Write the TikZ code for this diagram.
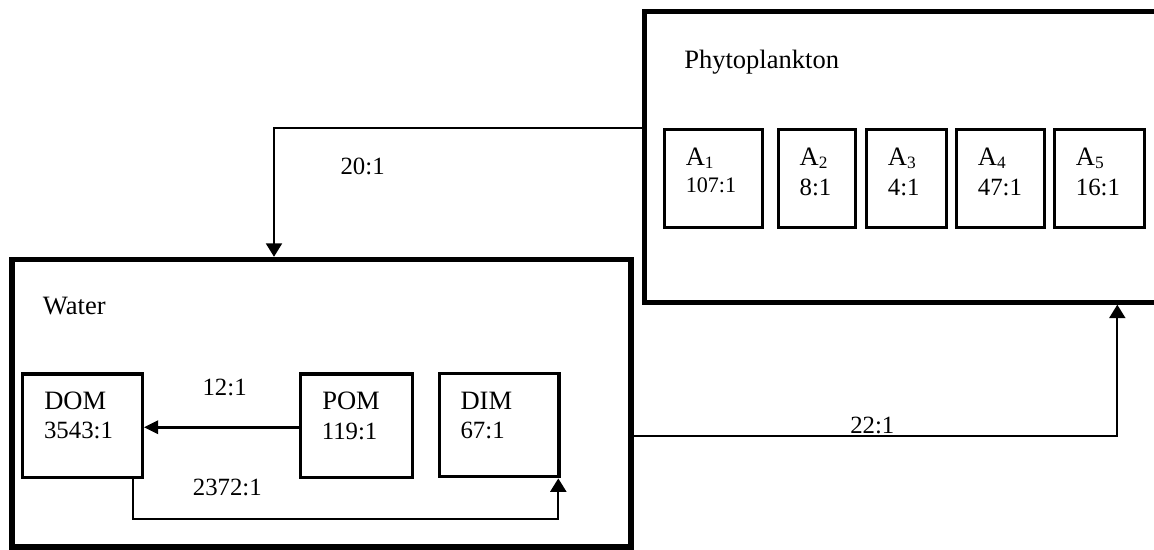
\documentclass[tikz,border=0pt]{standalone}
\usepackage{fontspec}
\setmainfont{Liberation Serif}
\usetikzlibrary{arrows.meta}
\newcommand\sbs[1]{\raisebox{-1.8pt}{\fontsize{13pt}{14pt}\selectfont #1}}
\begin{document}
\begin{tikzpicture}[x=0.75pt,y=-0.75pt,
  outerbox/.style={draw, line width=3.75pt, inner sep=0pt},
  abox/.style={draw, line width=2.5pt, inner sep=0pt, minimum height=98.4*0.75pt},
  wbox/.style={draw, line width=2.5pt, inner sep=0pt, minimum height=103.5*0.75pt},
  ttl/.style={anchor=base west, inner sep=0pt, font=\fontsize{19.9pt}{23pt}\selectfont},
  num/.style={anchor=base west, inner sep=0pt, font=\fontsize{18.6pt}{22pt}\selectfont},
  conn/.style={line width=1.3pt, -{Triangle[length=10pt,width=12pt]}},
  connthick/.style={line width=2pt, -{Triangle[length=10.7pt,width=10pt]}}
]
\useasboundingbox (0,0) rectangle (1154,550);
\clip (0,0) rectangle (1154,550);

% outer compartments
\node[outerbox, minimum width=525.8*0.75pt, minimum height=290.4*0.75pt] (phyto) at (907.1,157) {};
\node[outerbox, line width=4.1pt, minimum width=618.6*0.75pt, minimum height=287.5*0.75pt] (water) at (321.5,403.25) {};

\node[ttl] (tphyto) at (684,68.3) {Phytoplankton};
\node[ttl] (twater) at (42.7,314) {Water};

% phytoplankton groups
\node[abox, minimum width=97.6*0.75pt] (a1) at (713.5,178.5) {};
\node[abox, minimum width=77.4*0.75pt] (a2) at (817,178.5) {};
\node[abox, minimum width=80*0.75pt] (a3) at (906.7,178.5) {};
\node[abox, minimum width=88*0.75pt] (a4) at (1000.7,178.5) {};
\node[abox, minimum width=90*0.75pt] (a5) at (1099.7,178.5) {};

\node[ttl] (ta1) at (685.5,165.7) {A\sbs{1}};
\node[anchor=base west, inner sep=0pt, font=\fontsize{16.6pt}{20pt}\selectfont] (na1) at (685.5,192.3) {107:1};
\node[ttl] (ta2) at (799.4,165.7) {A\sbs{2}};
\node[num] (na2) at (799.4,195) {8:1};
\node[ttl] (ta3) at (887.6,165.7) {A\sbs{3}};
\node[num] (na3) at (887.6,195) {4:1};
\node[ttl] (ta4) at (977.6,165.7) {A\sbs{4}};
\node[num] (na4) at (977.6,195) {47:1};
\node[ttl] (ta5) at (1075.6,165.7) {A\sbs{5}};
\node[num] (na5) at (1075.6,195) {16:1};

% water pools
\node[wbox, minimum width=120*0.75pt] (dom) at (82.3,425.7) {};
\node[wbox, minimum width=111.7*0.75pt] (pom) at (356.5,425.8) {};
\node[wbox, minimum width=119.7*0.75pt] (dim) at (499.2,425) {};

\node[ttl] (tdom) at (44,409.3) {DOM};
\node[num] (ndom) at (43.8,438.3) {3543:1};
\node[ttl] (tpom) at (322,409.3) {POM};
\node[num] (npom) at (321.5,439) {119:1};
\node[ttl] (tdim) at (460.3,409.3) {DIM};
\node[num] (ndim) at (460.3,438.3) {67:1};

% connectors
\coordinate (c20) at (274,128.3);
\draw[conn] (c20 -| phyto.west) -- (c20) -- (c20 |- water.north);
\node[num] (l20) at (340.3,174) {20:1};

\coordinate (c12) at (220,427.3);
\draw[connthick] (c12 -| pom.west) -- (c12 -| dom.east);
\node[num] (l12) at (202.3,395) {12:1};

\coordinate (c23a) at (132.7,519.3);
\coordinate (c23b) at (558.3,519.3);
\draw[conn] (c23a |- dom.south) -- (c23a) -- (c23b) -- (c23b |- dim.south);
\node[num] (l23) at (192.6,495) {2372:1};

\coordinate (c22) at (1117.3,435.7);
\draw[conn] (c22 -| water.east) -- (c22) -- (c22 |- phyto.south);
\node[num] (l22) at (850,433.3) {22:1};
\end{tikzpicture}
\end{document}
